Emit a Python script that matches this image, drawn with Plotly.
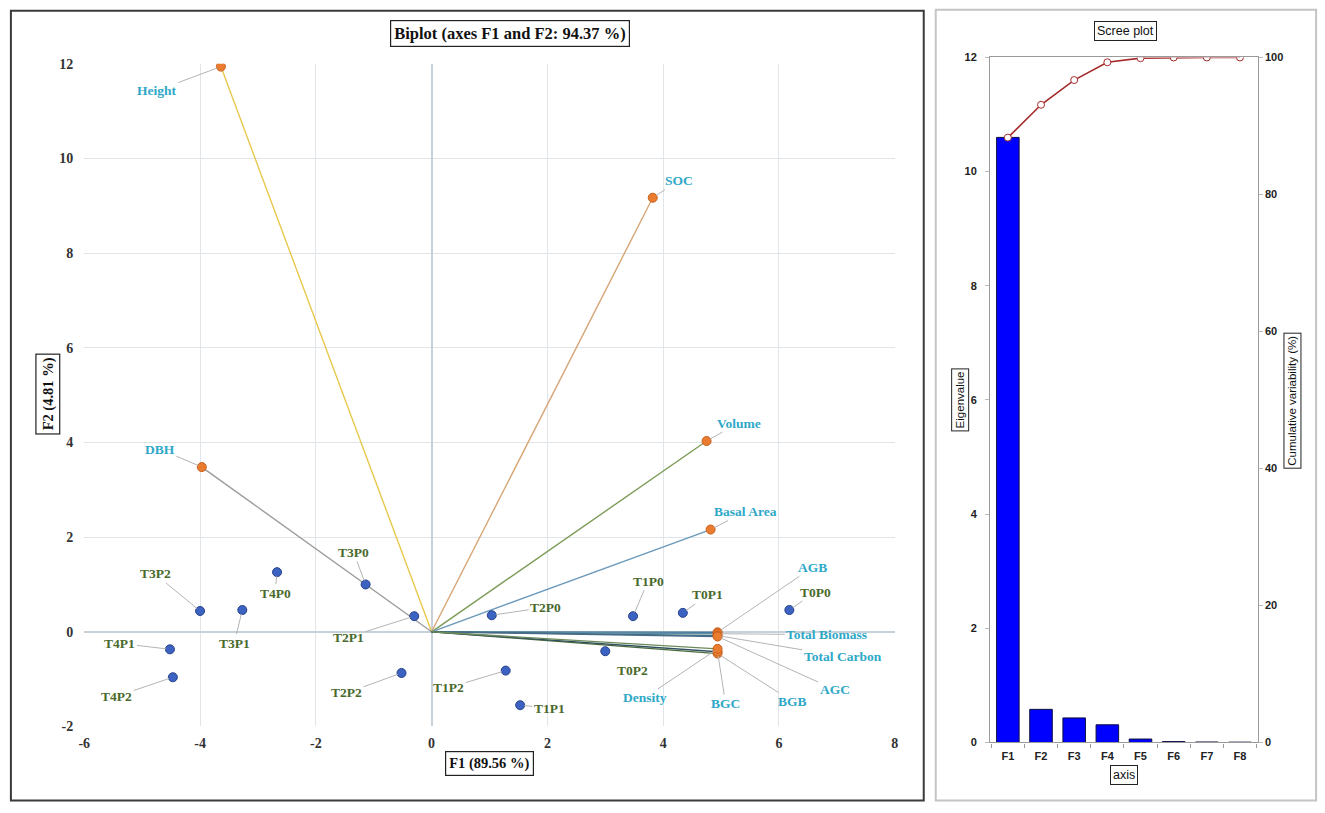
import plotly.graph_objects as go

# ---------------- data ----------------
var_names = ["Height", "SOC", "Volume", "Basal Area", "DBH", "AGB", "Total Biomass",
             "Total Carbon", "AGC", "BGB", "BGC", "Density"]
var_f1 = [-3.64, 3.82, 4.75, 4.82, -3.97, 4.94, 4.94, 4.94, 4.94, 4.94, 4.94, 4.94]
var_f2 = [11.94, 9.17, 4.03, 2.16, 3.48, -0.01, -0.04, -0.08, -0.10, -0.46, -0.42, -0.36]
var_colors = ["#e8c84c", "#d6a677", "#7d9b58", "#6a99ba", "#9c9c9c", "#4c7b9c", "#5c8caa",
              "#3e6f70", "#476b8b", "#4b6b3b", "#30505f", "#6b8b5b"]
var_label_dx = [-64, 26, 32, 35, -42, 95, 109, 125, 117, 75, 8, -73]
var_label_dy = [24, -17, -18, -18, -18, -65, 1, 21, 53, 48, 52, 49]

obs_names = ["T0P0", "T0P1", "T0P2", "T1P0", "T1P1", "T1P2", "T2P0", "T2P1", "T2P2",
             "T3P0", "T3P1", "T3P2", "T4P0", "T4P1", "T4P2"]
obs_f1 = [6.18, 4.34, 3.00, 3.48, 1.53, 1.28, 1.04, -0.30, -0.52, -1.14, -3.27, -4.00, -2.67, -4.52, -4.47]
obs_f2 = [0.46, 0.40, -0.41, 0.33, -1.55, -0.82, 0.35, 0.33, -0.87, 1.00, 0.46, 0.44, 1.26, -0.37, -0.96]
obs_label_dx = [26, 25, 27, 15, 29, -57, 54, -66, -55, -12, -8, -45, -2, -50, -56]
obs_label_dy = [-18, -18, 19, -35, 3, 17, -8, 21, 20, -32, 33, -37, 21, -6, 19]

axes_labels = ["F1", "F2", "F3", "F4", "F5", "F6", "F7", "F8"]
eigenvalues = [10.6, 0.58, 0.43, 0.31, 0.06, 0.015, 0.008, 0.005]
cumulative = [88.3, 93.1, 96.7, 99.3, 99.9, 100.0, 100.0, 100.0]

biplot_x_ticks = [-6, -4, -2, 0, 2, 4, 6, 8]
biplot_x_ticktext = ["-6", "-4", "-2", "0", "2", "4", "6", "8"]
biplot_y_ticks = [-2, 0, 2, 4, 6, 8, 10, 12]
biplot_y_ticktext = ["-2", "0", "2", "4", "6", "8", "10", "12"]

# ---------------- figure ----------------
W, H = 1325, 813
SERIF = "Liberation Serif, Times New Roman, serif"
SANS = "Liberation Sans Narrow, Liberation Sans, Arial, sans-serif"
VAR_COL = "#2fa8c8"
OBS_COL = "#4a6a2c"

# compensate for the photographing transform observed (scale + offset)
SX, OX = 0.9923, 6.1
SY, OY = 0.982, 6.2


def px(xp):
    return ((xp - OX) / SX) / W


def py(yp):
    return 1 - ((yp - OY) / SY) / H


fig = go.Figure()

# vectors
for n, x, y, c in zip(var_names, var_f1, var_f2, var_colors):
    fig.add_trace(go.Scatter(x=[0, x], y=[0, y], mode="lines",
                             line=dict(color=c, width=1.4), showlegend=False,
                             hoverinfo="skip", xaxis="x", yaxis="y"))
# variable points
fig.add_trace(go.Scatter(x=var_f1, y=var_f2, mode="markers", text=var_names,
                         marker=dict(color="#ea7c30", size=9, line=dict(color="#c8601c", width=1)),
                         showlegend=False, xaxis="x", yaxis="y"))
# observation points
fig.add_trace(go.Scatter(x=obs_f1, y=obs_f2, mode="markers", text=obs_names,
                         marker=dict(color="#3c62c2", size=9, line=dict(color="#27428a", width=1)),
                         showlegend=False, xaxis="x", yaxis="y"))

# scree
fig.add_trace(go.Bar(x=axes_labels, y=eigenvalues, marker=dict(color="#0000ff", line=dict(color="#101040", width=1)),
                     width=0.68, showlegend=False, xaxis="x2", yaxis="y2"))
fig.add_trace(go.Scatter(x=axes_labels, y=cumulative, mode="lines+markers",
                         line=dict(color="#a52a2a", width=1.6),
                         marker=dict(symbol="circle", size=7, color="white", line=dict(color="#a52a2a", width=1)),
                         showlegend=False, xaxis="x2", yaxis="y3"))

annotations = []
for n, x, y, dx, dy in zip(var_names, var_f1, var_f2, var_label_dx, var_label_dy):
    annotations.append(dict(x=x, y=y, xref="x", yref="y", text="<b>%s</b>" % n, showarrow=True,
                            ax=dx, ay=dy, arrowhead=0, arrowwidth=1, arrowcolor="#b4b4b4", standoff=4,
                            font=dict(family=SERIF, size=13.5, color=VAR_COL)))
for n, x, y, dx, dy in zip(obs_names, obs_f1, obs_f2, obs_label_dx, obs_label_dy):
    annotations.append(dict(x=x, y=y, xref="x", yref="y", text="<b>%s</b>" % n, showarrow=True,
                            ax=dx, ay=dy, arrowhead=0, arrowwidth=1, arrowcolor="#b4b4b4", standoff=4,
                            font=dict(family=SERIF, size=13.5, color=OBS_COL)))

# boxed titles
box = dict(showarrow=False, bordercolor="#222", borderwidth=1.2, bgcolor="white", borderpad=3,
           xref="paper", yref="paper", xanchor="center", yanchor="middle")
annotations.append(dict(box, x=px(510), y=py(33), text="<b>Biplot (axes F1 and F2: 94.37 %)</b>",
                        font=dict(family=SERIF, size=16.5, color="#111")))
annotations.append(dict(box, x=px(489), y=py(763), text="<b>F1 (89.56 %)</b>",
                        font=dict(family=SERIF, size=14.5, color="#111")))
annotations.append(dict(box, x=px(48), y=py(393), text="<b>F2 (4.81 %)</b>", textangle=-90,
                        font=dict(family=SERIF, size=14.5, color="#111")))
annotations.append(dict(box, x=px(1125), y=py(30), text="Scree plot", borderpad=2, borderwidth=1,
                        font=dict(family=SANS, size=12.5, color="#111")))
annotations.append(dict(box, x=px(1123), y=py(775), text="axis", borderpad=2, borderwidth=1,
                        font=dict(family=SANS, size=12.5, color="#111")))
annotations.append(dict(box, x=px(959), y=py(399), text="Eigenvalue", textangle=-90, borderpad=2, borderwidth=1,
                        font=dict(family=SANS, size=11.5, color="#111")))
annotations.append(dict(box, x=px(1291), y=py(400), text="Cumulative variability (%)", textangle=-90,
                        borderpad=2, borderwidth=1, font=dict(family=SANS, size=11.5, color="#111")))

shapes = [
    dict(type="rect", xref="paper", yref="paper", x0=px(11), x1=px(923), y0=py(800), y1=py(10),
         line=dict(color="#3a3a3a", width=2)),
    dict(type="rect", xref="paper", yref="paper", x0=px(935), x1=px(1315), y0=py(800), y1=py(9),
         line=dict(color="#c4c4c4", width=2)),
]

grid = "#e0e5ea"
tickfont_b = dict(family=SERIF, size=14, color="#333", weight="bold")
tickfont_s = dict(family=SANS, size=11, color="#222", weight="bold")

fig.update_layout(
    width=W, height=H, margin=dict(l=0, r=0, t=0, b=0),
    paper_bgcolor="white", plot_bgcolor="white",
    annotations=annotations, shapes=shapes,
    xaxis=dict(domain=[px(84.3), px(894)], range=[-6, 8], tickvals=biplot_x_ticks, ticktext=biplot_x_ticktext,
               showgrid=True, gridcolor=grid, gridwidth=1.2, zeroline=True, zerolinecolor="#c9d1d8",
               zerolinewidth=1.5, showline=False, ticks="", tickfont=tickfont_b, anchor="y",
               ticklabelstandoff=7),
    yaxis=dict(domain=[py(726), py(63)], range=[-2, 12], tickvals=biplot_y_ticks, ticktext=biplot_y_ticktext,
               showgrid=True, gridcolor=grid, gridwidth=1.2, zeroline=True, zerolinecolor="#c9d1d8",
               zerolinewidth=1.5, showline=False, ticks="", tickfont=tickfont_b, anchor="x",
               ticklabelstandoff=10),
    xaxis2=dict(domain=[px(989.3), px(1256.7)], type="category", showgrid=False, zeroline=False,
                showline=True, linecolor="#9a9a9a", linewidth=1.2, mirror=True,
                ticks="outside", tickson="boundaries", ticklen=4, tickcolor="#9a9a9a",
                tickfont=tickfont_s, anchor="y2", ticklabelstandoff=3),
    yaxis2=dict(domain=[py(742), py(56.7)], range=[0, 12], dtick=2, showgrid=False, zeroline=False,
                showline=True, linecolor="#9a9a9a", linewidth=1.2, mirror=True,
                ticks="outside", ticklen=4, tickcolor="#bbbbbb", tickfont=tickfont_s, anchor="x2",
                ticklabelstandoff=6),
    yaxis3=dict(range=[0, 100], dtick=20, overlaying="y2", side="right", anchor="x2", showgrid=False,
                zeroline=False, showline=False, ticks="outside", ticklen=4, tickcolor="#bbbbbb",
                tickfont=tickfont_s),
    bargap=0.32,
)

fig.write_html("out.html", config={"displayModeBar": False},
               post_script="document.body.style.margin='0';document.body.style.overflow='hidden';")
